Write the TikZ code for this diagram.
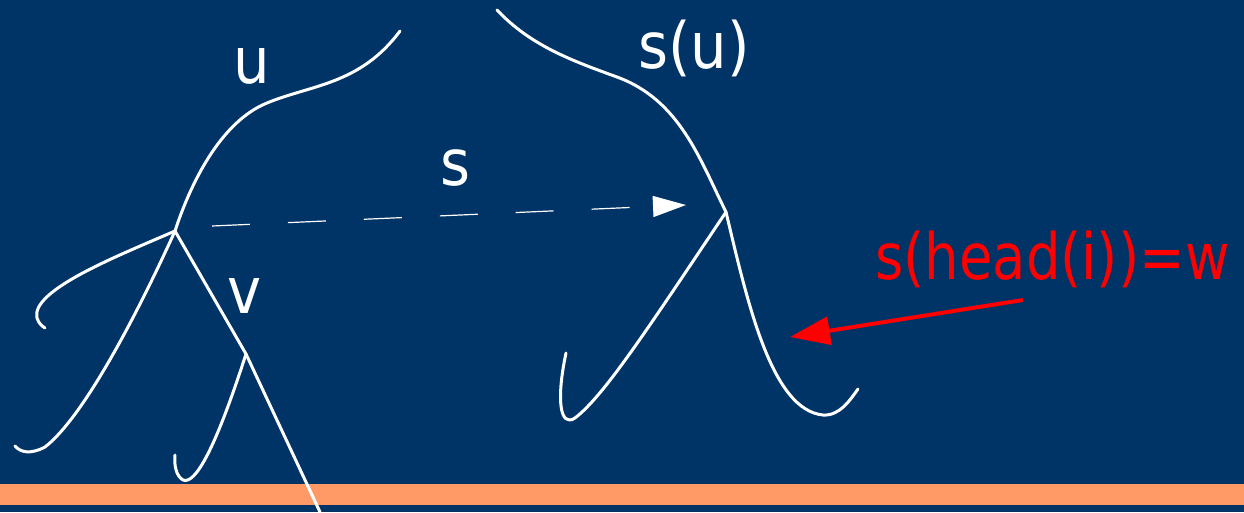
\documentclass[tikz,border=0pt]{standalone}
\usepackage{fontspec}
\usetikzlibrary{arrows.meta}
\newfontfamily\lbl{DejaVu Sans Condensed}
\newfontfamily\lblnarrow[FakeStretch=0.945]{DejaVu Sans Condensed}
\definecolor{bgnavy}{HTML}{003366}
\definecolor{barorange}{HTML}{FF9966}
\definecolor{redlbl}{HTML}{FF0000}
\tikzset{
  branch/.style={white, line width=3pt, line cap=round, line join=round},
  lbltext/.style={white, inner sep=0pt, anchor=base, font=\lbl\fontsize{64}{64}\selectfont},
  redtext/.style={redlbl, inner sep=0pt, anchor=base west, font=\lblnarrow\fontsize{64}{64}\selectfont},
  maparrow/.style={white, line width=1.2pt, dash pattern=on 38pt off 38pt, -{Triangle[length=33pt,width=21pt]}},
  redarrow/.style={redlbl, line width=4pt, -{Triangle[length=40pt,width=28pt]}}
}
\begin{document}
\begin{tikzpicture}[x=1pt,y=-1pt]
  \fill[bgnavy] (0,0) rectangle (1244,512);
  \useasboundingbox (0,0) rectangle (1244,512);
  \fill[barorange] (0,484) rectangle (1244,505);

  % tree nodes
  \coordinate (u1) at (175,231);
  \coordinate (v1) at (246,354);
  \coordinate (w1) at (726,212);
  % free ends
  \coordinate (utop) at (400,31);
  \coordinate (ulefthook) at (45,328);
  \coordinate (uleftlong) at (15,446);
  \coordinate (vdown) at (320,512);
  \coordinate (vhook) at (175,455);
  \coordinate (wtop) at (497,10);
  \coordinate (wlefthook) at (566,353);
  \coordinate (wrighthook) at (858,389);
  \coordinate (sA) at (212,226);
  \coordinate (sB) at (686,205);
  \coordinate (rA) at (1023,300);
  \coordinate (rB) at (790,337);

  % left tree
  \draw[branch] (utop) .. controls (360,85) and (310,85) .. (267,103)
                .. controls (220,122) and (190,185) .. (u1);
  \draw[branch] (u1) .. controls (120,255) and (30,290) .. (37,318)
                .. controls (39,324) and (42,326) .. (ulefthook);
  \draw[branch] (u1) .. controls (130,330) and (80,420) .. (45,447)
                .. controls (30,455) and (20,452) .. (uleftlong);
  \draw[branch] (u1) -- (v1);
  \draw[branch] (v1) -- (vdown);
  \draw[branch] (v1) .. controls (215,450) and (195,485) .. (183,480)
                .. controls (176,476) and (174,465) .. (vhook);

  % right tree
  \draw[branch] (wtop) .. controls (530,45) and (570,60) .. (617,77)
                .. controls (680,100) and (700,160) .. (w1);
  \draw[branch] (w1) .. controls (650,325) and (605,395) .. (575,418)
                .. controls (560,428) and (556,400) .. (wlefthook);
  \draw[branch] (w1) .. controls (748,305) and (772,410) .. (823,415)
                .. controls (840,416) and (850,400) .. (wrighthook);

  % mapping arrow
  \draw[maparrow] (sA) -- (sB);
  \draw[redarrow] (rA) -- (rB);

  % labels
  \node[lbltext] (lu) at (252,83) {u};
  \node[lbltext] (lsu) at (694,68) {s(u)};
  \node[lbltext] (ls) at (455,185) {s};
  \node[lbltext] (lv) at (245,313) {v};
  \node[redtext] (lw) at (875,279) {s(head(i))=w};
\end{tikzpicture}
\end{document}
